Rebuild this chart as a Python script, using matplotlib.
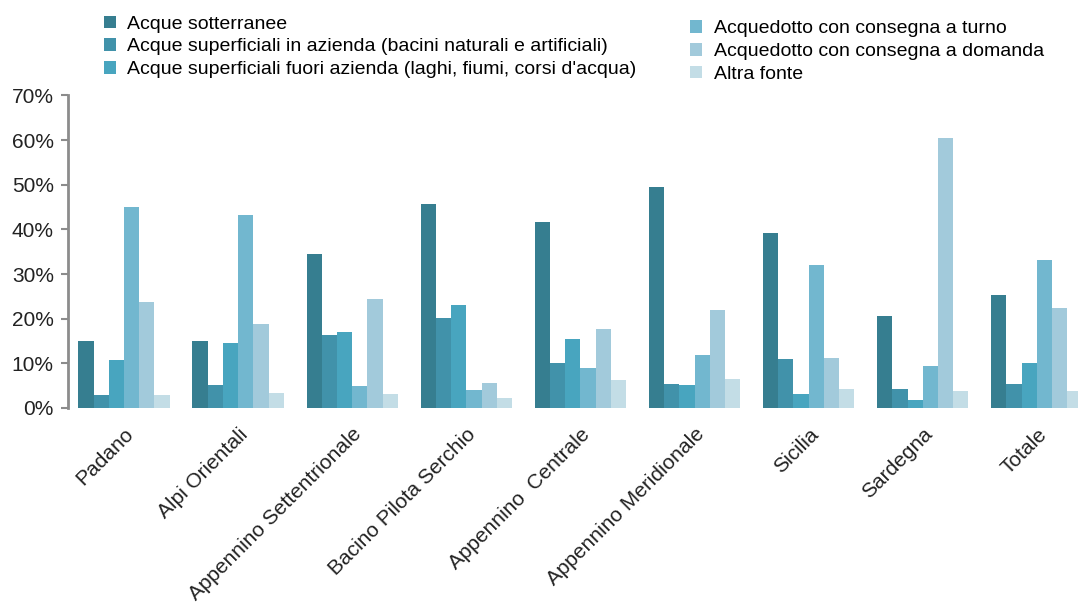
import numpy as np
import matplotlib
matplotlib.use("Agg")
import matplotlib.pyplot as plt
from matplotlib.patches import Patch

plt.rcParams['font.family'] = ['Liberation Sans', 'DejaVu Sans']

# dati (percentuali)
distretti = ["Padano", "Alpi Orientali", "Appennino Settentrionale", "Bacino Pilota Serchio",
             "Appennino  Centrale", "Appennino Meridionale", "Sicilia", "Sardegna", "Totale"]

sotterranee = [15.1, 15.0, 34.5, 45.6, 41.6, 49.4, 39.2, 20.7, 25.4]
sup_in_azienda = [3.0, 5.2, 16.3, 20.1, 10.0, 5.4, 11.0, 4.2, 5.4]
sup_fuori_azienda = [10.8, 14.6, 17.0, 23.0, 15.4, 5.1, 3.1, 1.7, 10.0]
acq_turno = [45.1, 43.3, 5.0, 4.1, 9.0, 11.9, 32.0, 9.4, 33.1]
acq_domanda = [23.7, 18.9, 24.4, 5.5, 17.8, 22.0, 11.1, 60.4, 22.5]
altra_fonte = [3.0, 3.3, 3.2, 2.2, 6.3, 6.5, 4.2, 3.7, 3.8]

serie = [sotterranee, sup_in_azienda, sup_fuori_azienda, acq_turno, acq_domanda, altra_fonte]
etichette = ["Acque sotterranee",
             "Acque superficiali in azienda (bacini naturali e artificiali)",
             "Acque superficiali fuori azienda (laghi, fiumi, corsi d'acqua)",
             "Acquedotto con consegna a turno",
             "Acquedotto con consegna a domanda",
             "Altra fonte"]
colori = ["#367e90", "#4192aa", "#48a5bf", "#72b7cf", "#a2cadb", "#c3dde6"]

fig = plt.figure(figsize=(10.78, 6.08), dpi=100)
ax = fig.add_axes([0.0628, 0.329, 0.9372, 0.514])

x = np.arange(len(distretti))
w = 0.8 / len(serie)
for i, s in enumerate(serie):
    ax.bar(x - 0.4 + w * (i + 0.5), s, w, color=colori[i], linewidth=0)

ax.set_ylim(0, 70)
ax.set_xlim(-0.493, 8.36)
ax.set_yticks(range(0, 71, 10))
ax.set_yticklabels([f"{v}%" for v in range(0, 71, 10)], fontsize=15, color="#222222")
ax.tick_params(axis='y', length=5, width=1.5, color="#8c8c8c", pad=5)
ax.spines['left'].set_color("#8c8c8c")
ax.spines['left'].set_linewidth(2)
for lato in ['top', 'right', 'bottom']:
    ax.spines[lato].set_visible(False)

ax.set_xticks(x)
ax.set_xticklabels(distretti, rotation=45, ha='right', rotation_mode='anchor',
                   fontsize=15, color="#222222")
ax.tick_params(axis='x', length=0, pad=12)

maniglie = [Patch(facecolor=c, edgecolor='none') for c in colori]
fig.legend(maniglie[:3], etichette[:3], loc='upper left',
           bbox_to_anchor=(0.082, 1.0), frameon=False, fontsize=14,
           handlelength=0.6, handleheight=0.6, handletextpad=0.6,
           labelspacing=0.3, borderpad=0.3)
fig.legend(maniglie[3:], etichette[3:], loc='upper left',
           bbox_to_anchor=(0.626, 0.992), frameon=False, fontsize=14,
           handlelength=0.6, handleheight=0.6, handletextpad=0.6,
           labelspacing=0.3, borderpad=0.3)

fig.savefig("out.png", dpi=100)
